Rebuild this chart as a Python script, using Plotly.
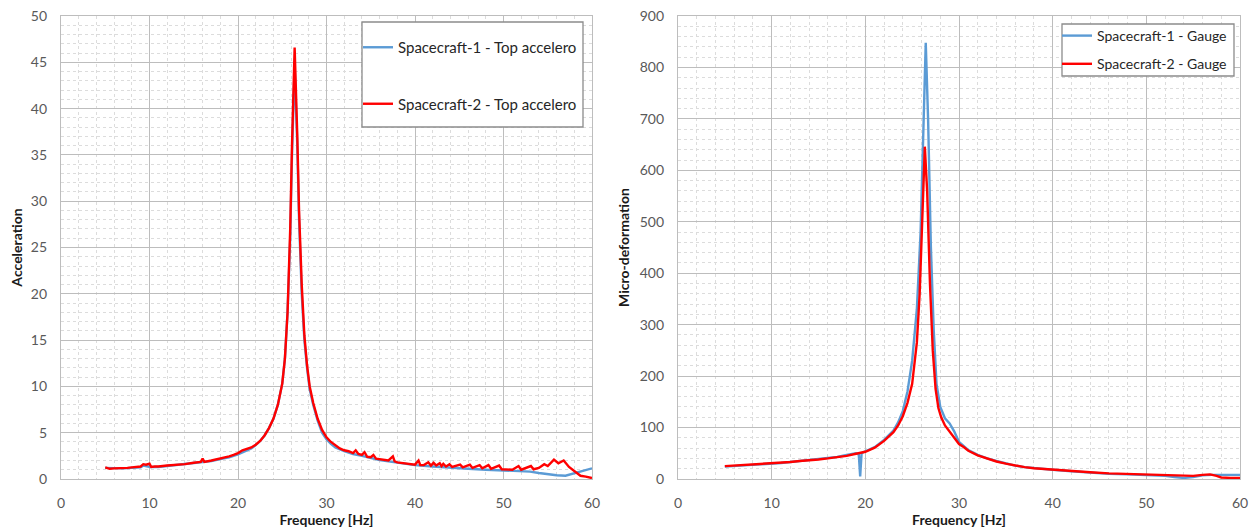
import plotly.graph_objects as go

# ---------------- data ----------------
acc_freq_sc1 = [5, 6, 7, 8, 9, 9.3, 9.8, 10.1, 11, 12, 13, 14, 15, 16, 17, 18, 19, 20, 20.5, 21, 21.5, 22,
                22.5, 23, 23.5, 24, 24.5, 25, 25.3, 25.6, 25.9, 26.1, 26.4, 26.7, 26.9, 27.2, 27.5, 27.8,
                28.1, 28.5, 29, 29.5, 30, 30.5, 31, 32, 33, 34, 35, 36, 37, 38, 39, 40, 42, 44, 46, 48,
                50, 52, 53, 54, 55, 56, 57, 58, 59, 60]
acc_sc1 = [1.2, 1.15, 1.15, 1.2, 1.25, 1.45, 1.4, 1.3, 1.3, 1.4, 1.5, 1.6, 1.7, 1.85, 1.95, 2.15, 2.35,
           2.65, 2.85, 3.05, 3.3, 3.65, 4.1, 4.7, 5.5, 6.5, 8.0, 10.3, 13, 18, 26, 35, 44.5, 36, 28, 20,
           15, 12, 9.7, 8.0, 6.3, 5.0, 4.3, 3.8, 3.4, 3.0, 2.7, 2.5, 2.25, 2.05, 1.9, 1.75, 1.6, 1.5,
           1.35, 1.2, 1.1, 1.0, 0.95, 0.85, 0.8, 0.65, 0.5, 0.4, 0.35, 0.6, 0.85, 1.15]

acc_freq_sc2 = [5.0, 5.5, 6, 6.5, 7, 7.5, 8, 8.5, 9, 9.3, 9.6, 10, 10.2, 10.6, 11, 12, 13, 14, 15, 15.8,
                16, 16.2, 17, 18, 19, 19.5, 20, 20.5, 21, 21.5, 22, 22.5, 23, 23.5, 24, 24.5, 25, 25.3,
                25.6, 25.9, 26.1, 26.4, 26.7, 26.9, 27.2, 27.5, 27.8, 28.1, 28.5, 29, 29.5, 30, 30.5,
                31, 31.5, 32, 32.5, 33, 33.3, 33.6, 34, 34.3, 34.6, 35, 35.3, 35.6, 36, 36.5, 37, 37.5,
                37.7, 38, 39, 40, 40.4, 40.6, 41, 41.5, 41.8, 42.1, 42.4, 42.8, 43.0, 43.2, 43.5, 43.9,
                44.2, 45.1, 45.4, 46.2, 46.5, 47.3, 47.6, 48.3, 48.6, 49.5, 49.8, 50.5, 51, 51.7, 52,
                53.1, 53.4, 54, 54.6, 55, 55.7, 56.2, 56.8, 57.4, 58, 58.7, 59.3, 60]
acc_sc2 = [1.25, 1.1, 1.15, 1.15, 1.2, 1.2, 1.25, 1.3, 1.35, 1.6, 1.55, 1.65, 1.3, 1.35, 1.35, 1.45,
           1.5, 1.6, 1.75, 1.85, 2.2, 1.85, 2.0, 2.2, 2.45, 2.6, 2.8, 3.1, 3.25, 3.4, 3.7, 4.1, 4.7,
           5.5, 6.5, 8.0, 10.3, 13, 18, 27, 36, 46.6, 37, 29, 21, 15.5, 12.3, 10, 8.2, 6.5, 5.3, 4.5,
           4.0, 3.6, 3.3, 3.1, 3.0, 2.8, 3.1, 2.7, 2.6, 2.9, 2.4, 2.35, 2.6, 2.2, 2.15, 2.05, 2.0,
           2.45, 1.9, 1.8, 1.65, 1.55, 2.0, 1.5, 1.5, 1.8, 1.45, 1.75, 1.45, 1.7, 1.4, 1.65, 1.35,
           1.6, 1.3, 1.55, 1.25, 1.55, 1.2, 1.5, 1.15, 1.5, 1.1, 1.45, 1.05, 1.05, 1.0, 1.4, 1.0,
           1.4, 1.05, 1.2, 1.6, 1.4, 2.1, 1.7, 2.0, 1.3, 0.9, 0.35, 0.25, 0.1]

gauge_freq_sc1 = [5, 6, 7, 8, 9, 10, 11, 12, 13, 14, 15, 16, 17, 18, 19, 19.3, 19.45, 19.6, 20, 21, 22,
                  23, 23.5, 24, 24.5, 25, 25.5, 25.9, 26.2, 26.45, 26.7, 27.0, 27.3, 27.6, 28, 28.5,
                  29, 29.5, 30, 30.5, 31, 32, 33, 34, 35, 36, 37, 38, 40, 42, 44, 46, 48, 50, 52, 53,
                  54, 55, 56, 57, 58, 60]
gauge_sc1 = [24, 25, 26, 28, 29, 30, 31, 33, 35, 37, 39, 41, 43, 47, 50, 48, 5, 50, 54, 62, 76, 94, 110,
             132, 170, 230, 330, 480, 700, 848, 700, 450, 290, 185, 140, 118, 108, 92, 72, 63, 56, 47,
             40, 35, 30, 26, 23, 21, 18, 15, 12.5, 10, 9, 8, 6, 4, 2, 4, 7, 8, 8, 8]

gauge_freq_sc2 = [5, 6, 7, 8, 9, 10, 11, 12, 13, 14, 15, 16, 17, 18, 19, 20, 21, 22, 23, 23.5, 24, 24.5,
                  25, 25.5, 25.8, 26.1, 26.35, 26.6, 26.9, 27.2, 27.5, 27.8, 28.1, 28.5, 29, 29.5, 30,
                  30.5, 31, 32, 33, 34, 35, 36, 37, 38, 39, 40, 42, 44, 46, 48, 50, 52, 54, 55, 56,
                  56.8, 57.5, 58, 59, 60]
gauge_sc2 = [25, 26, 27, 28, 29, 30, 32, 33, 35, 36, 38, 40, 42, 45, 49, 53, 61, 74, 91, 104, 122, 148,
             185, 265, 360, 520, 646, 560, 380, 250, 175, 138, 120, 104, 92, 80, 68, 62, 55, 46, 40,
             34, 30, 26, 23, 21, 19.5, 18, 15, 13, 11, 10, 8.5, 7.5, 6.5, 6, 8, 9, 6, 3, 2, 2]

names_acc = ["Spacecraft-1 - Top accelero", "Spacecraft-2 - Top accelero"]
names_gauge = ["Spacecraft-1 - Gauge", "Spacecraft-2 - Gauge"]

# ---------------- style ----------------
W, H = 1255, 532
BLUE = "#5B9BD5"
RED = "#FF0000"
FONT = "Lato"
LW = 2.4

fig = go.Figure()
fig.add_trace(go.Scatter(x=acc_freq_sc1, y=acc_sc1, name=names_acc[0], mode="lines",
                         line=dict(color=BLUE, width=LW), xaxis="x", yaxis="y",
                         legend="legend", legendgroup="a1"))
fig.add_trace(go.Scatter(x=acc_freq_sc2, y=acc_sc2, name=names_acc[1], mode="lines",
                         line=dict(color=RED, width=LW), xaxis="x", yaxis="y",
                         legend="legend", legendgroup="a2"))
fig.add_trace(go.Scatter(x=gauge_freq_sc1, y=gauge_sc1, name=names_gauge[0], mode="lines",
                         line=dict(color=BLUE, width=LW), xaxis="x2", yaxis="y2",
                         legend="legend2", legendgroup="g1"))
fig.add_trace(go.Scatter(x=gauge_freq_sc2, y=gauge_sc2, name=names_gauge[1], mode="lines",
                         line=dict(color=RED, width=LW), xaxis="x2", yaxis="y2",
                         legend="legend2", legendgroup="g2"))

ydom = [(H - 479) / H, (H - 16) / H]
common = dict(showgrid=True, gridcolor="#bdbdbd", gridwidth=1.3, zeroline=False,
              showline=True, linecolor="#bdbdbd", linewidth=1.3, mirror=True, ticks="",
              tickfont=dict(family=FONT, size=14, color="#595959"), automargin=False)
xminor = dict(dtick=2, showgrid=True, gridcolor="#dcdcdc", griddash="dot", gridwidth=1)
title_font = dict(family=FONT, size=14, color="#1a1a1a")

fig.update_layout(
    width=W, height=H, margin=dict(l=0, r=0, t=0, b=0),
    paper_bgcolor="white", plot_bgcolor="white",
    font=dict(family=FONT),
    xaxis=dict(domain=[61 / W, 592 / W], anchor="y", range=[0, 60], tick0=0, dtick=10,
               minor=xminor, ticklabelstandoff=11,
               title=dict(text="<b>Frequency [Hz]</b>", font=title_font, standoff=5), **common),
    yaxis=dict(domain=ydom, anchor="x", range=[0, 50], tick0=0, dtick=5, ticklabelstandoff=10,
               minor=dict(dtick=1, showgrid=True, gridcolor="#dcdcdc", griddash="dot", gridwidth=1),
               title=dict(text="<b>Acceleration</b>", font=title_font, standoff=4), **common),
    xaxis2=dict(domain=[678 / W, 1240 / W], anchor="y2", range=[0, 60], tick0=0, dtick=10,
                minor=xminor, ticklabelstandoff=11,
                title=dict(text="<b>Frequency [Hz]</b>", font=title_font, standoff=5), **common),
    yaxis2=dict(domain=ydom, anchor="x2", range=[0, 900], tick0=0, dtick=100, ticklabelstandoff=10,
                minor=dict(dtick=20, showgrid=True, gridcolor="#dcdcdc", griddash="dot", gridwidth=1),
                title=dict(text="<b>Micro-deformation</b>", font=title_font, standoff=6), **common),
    legend=dict(x=358 / W, y=(H - 31) / H, xanchor="left", yanchor="top",
                bgcolor="rgba(0,0,0,0)", borderwidth=0,
                font=dict(family=FONT, size=15, color="#262626"), tracegroupgap=34,
                itemwidth=30),
    legend2=dict(x=1057 / W, y=(H - 20) / H, xanchor="left", yanchor="top",
                 bgcolor="rgba(0,0,0,0)", borderwidth=0,
                 font=dict(family=FONT, size=14, color="#262626"), tracegroupgap=7,
                 itemwidth=30),
    shapes=[
        dict(type="rect", xref="paper", yref="paper", layer="above",
             x0=362 / W, x1=583 / W, y0=(H - 127) / H, y1=(H - 22) / H,
             fillcolor="white", line=dict(color="#8c8c8c", width=1.3)),
        dict(type="rect", xref="paper", yref="paper", layer="above",
             x0=1062 / W, x1=1234 / W, y0=(H - 76) / H, y1=(H - 24) / H,
             fillcolor="white", line=dict(color="#8c8c8c", width=1.3)),
    ],
)

fig.write_html("out.html")
